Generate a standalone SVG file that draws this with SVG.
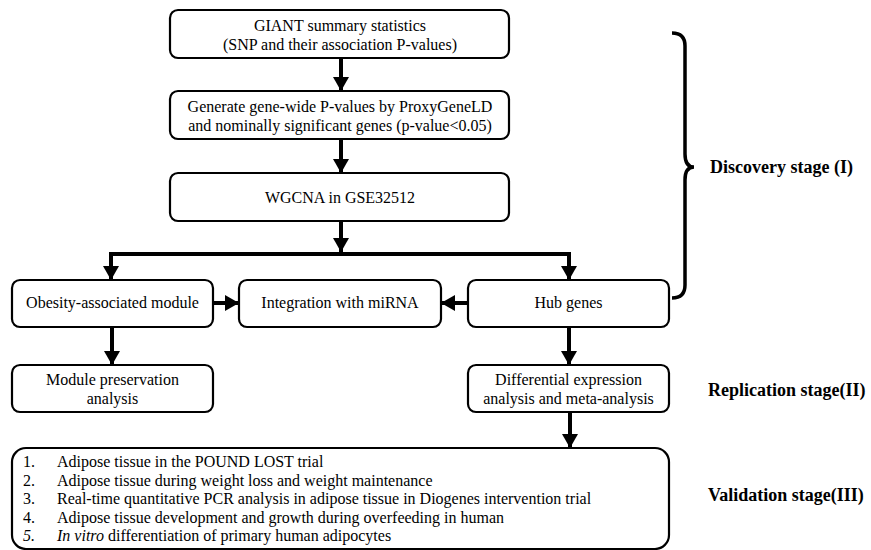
<svg xmlns="http://www.w3.org/2000/svg" width="871" height="550" viewBox="0 0 871 550">
<defs>
<style>
.box{fill:#fff;stroke:#000;stroke-width:2.2}
.t{font-family:"Liberation Serif","Times New Roman",serif;font-size:16px;fill:#000;text-anchor:middle}
.l{font-family:"Liberation Serif","Times New Roman",serif;font-size:16px;fill:#000}
.s{font-family:"Liberation Serif","Times New Roman",serif;font-size:18px;font-weight:bold;fill:#000}
.c{fill:none;stroke:#000;stroke-width:4;stroke-linejoin:miter}
</style>
<marker id="ah" markerUnits="userSpaceOnUse" markerWidth="16" markerHeight="16" viewBox="0 0 16 16" refX="14" refY="8" orient="auto">
<path d="M0,0 L14,8 L0,16 Z" fill="#000"/>
</marker>
</defs>
<rect width="871" height="550" fill="#fff"/>
<g id="connectors">
<line class="c" x1="341" y1="58" x2="341" y2="91" marker-end="url(#ah)"/>
<line class="c" x1="341" y1="139" x2="341" y2="173" marker-end="url(#ah)"/>
<line class="c" x1="341" y1="221" x2="341" y2="252" marker-end="url(#ah)"/>
<path class="c" d="M341,254 H111 V280" marker-end="url(#ah)"/>
<path class="c" d="M341,254 H569 V280" marker-end="url(#ah)"/>
<line class="c" x1="213" y1="303" x2="239" y2="303" marker-end="url(#ah)"/>
<line class="c" x1="468" y1="303" x2="441" y2="303" marker-end="url(#ah)"/>
<line class="c" x1="112" y1="327" x2="112" y2="365" marker-end="url(#ah)"/>
<line class="c" x1="569" y1="327" x2="569" y2="365" marker-end="url(#ah)"/>
<line class="c" x1="570" y1="412" x2="570" y2="448" marker-end="url(#ah)"/>
</g>
<g id="giant">
<rect class="box" x="170" y="10" width="339" height="48" rx="8"/>
<text class="t" x="340" y="30.5">GIANT summary statistics</text>
<text class="t" x="340" y="49.5">(SNP and their association P-values)</text>
</g>
<g id="proxygeneld">
<rect class="box" x="170" y="91" width="339" height="48" rx="8"/>
<text class="t" x="340" y="112">Generate gene-wide P-values by ProxyGeneLD</text>
<text class="t" x="340" y="131">and nominally significant genes (p-value&lt;0.05)</text>
</g>
<g id="wgcna">
<rect class="box" x="170" y="173" width="339" height="48" rx="8"/>
<text class="t" x="340" y="203">WGCNA in GSE32512</text>
</g>
<g id="obesity">
<rect class="box" x="12" y="280" width="201" height="47" rx="8"/>
<text class="t" x="112.5" y="308">Obesity-associated module</text>
</g>
<g id="mirna">
<rect class="box" x="239" y="280" width="202" height="47" rx="8"/>
<text class="t" x="340" y="308">Integration with miRNA</text>
</g>
<g id="hub">
<rect class="box" x="468" y="280" width="201" height="47" rx="8"/>
<text class="t" x="568.5" y="308">Hub genes</text>
</g>
<g id="module">
<rect class="box" x="12" y="365" width="201" height="47" rx="8"/>
<text class="t" x="112.5" y="385">Module preservation</text>
<text class="t" x="112.5" y="404">analysis</text>
</g>
<g id="differential">
<rect class="box" x="468" y="365" width="201" height="47" rx="8"/>
<text class="t" x="568.5" y="385">Differential expression</text>
<text class="t" x="568.5" y="404">analysis and meta-analysis</text>
</g>
<g id="validation">
<rect class="box" x="12" y="448" width="657" height="101" rx="14"/>
<text class="l" x="23" y="467">1.</text>
<text class="l" x="57" y="467">Adipose tissue in the POUND LOST trial</text>
<text class="l" x="23" y="485.5">2.</text>
<text class="l" x="57" y="485.5">Adipose tissue during weight loss and weight maintenance</text>
<text class="l" x="23" y="504">3.</text>
<text class="l" x="57" y="504">Real-time quantitative PCR analysis in adipose tissue in Diogenes intervention trial</text>
<text class="l" x="23" y="522.5">4.</text>
<text class="l" x="57" y="522.5">Adipose tissue development and growth during overfeeding in human</text>
<text class="l" x="23" y="541" font-style="italic">5.</text>
<text class="l" x="57" y="541"><tspan font-style="italic">In vitro</tspan> differentiation of primary human adipocytes</text>
</g>
<g id="brace">
<path d="M672,33 Q685,33 685,46 L685,154 Q685,167 694,167 Q685,167 685,180 L685,285 Q685,298 672,298" fill="none" stroke="#000" stroke-width="3.5"/>
</g>
<g id="labels">
<text class="s" x="710" y="173">Discovery stage (I)</text>
<text class="s" x="708" y="396">Replication stage(II)</text>
<text class="s" x="708" y="501">Validation stage(III)</text>
</g>
</svg>
